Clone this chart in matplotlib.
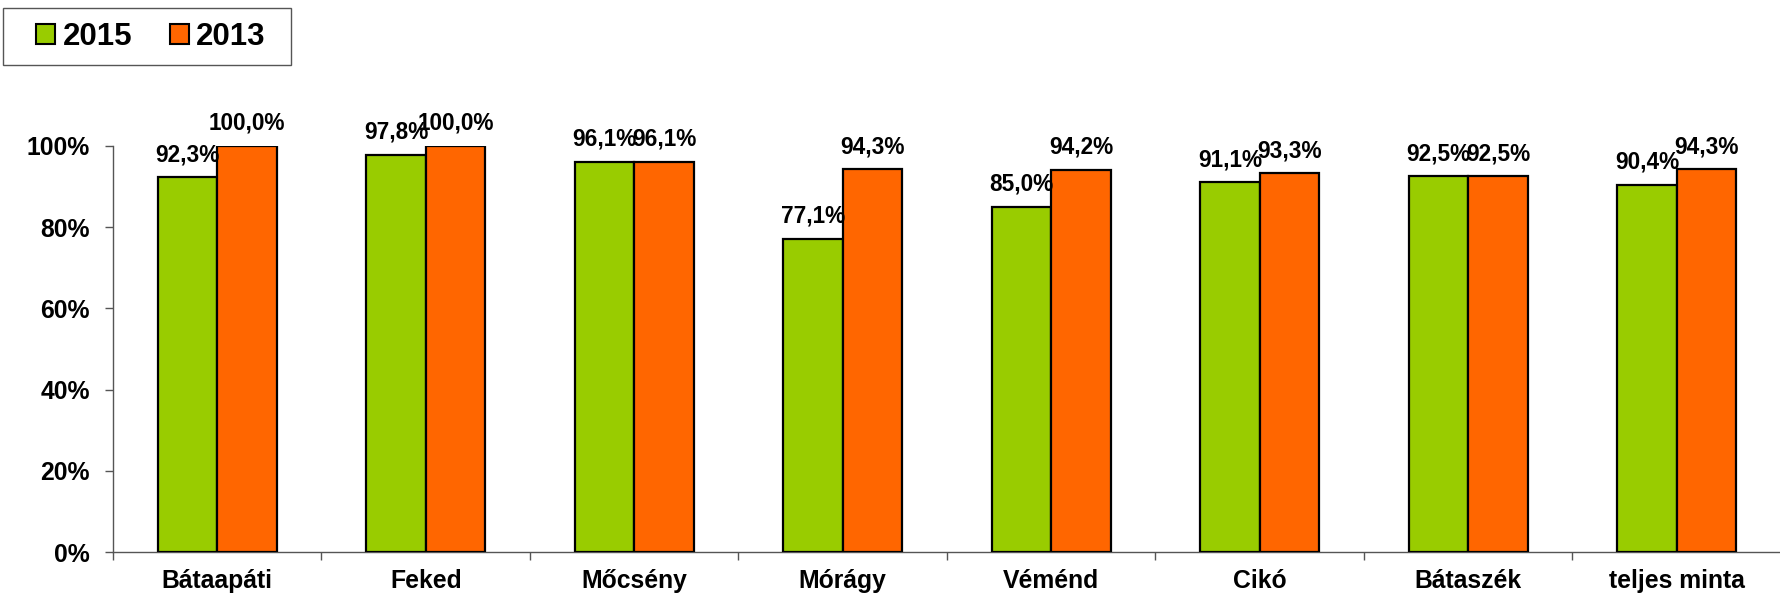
import matplotlib
matplotlib.use("Agg")
import matplotlib.pyplot as plt
import numpy as np
from matplotlib.patches import Patch, Rectangle

categories = ["Bátaapáti", "Feked", "Mőcsény", "Mórágy", "Véménd", "Cikó", "Bátaszék", "teljes minta"]
v2015 = [92.3, 97.8, 96.1, 77.1, 85.0, 91.1, 92.5, 90.4]
v2013 = [100.0, 100.0, 96.1, 94.3, 94.2, 93.3, 92.5, 94.3]
yticks = [0, 20, 40, 60, 80, 100]

plt.rcParams['font.family'] = ['Liberation Sans', 'DejaVu Sans']
plt.rcParams['font.weight'] = 'bold'

fig = plt.figure(figsize=(17.81, 5.96), dpi=100)
ax = fig.add_axes([113/1781, 1-552/596, 1-113/1781, (552-146)/596])

x = np.arange(len(categories))
w = 0.285
green = "#99CC00"
orange = "#FF6600"
b1 = ax.bar(x - w/2, v2015, w, color=green, edgecolor="black", linewidth=1.6, zorder=3)
b2 = ax.bar(x + w/2, v2013, w, color=orange, edgecolor="black", linewidth=1.6, zorder=3)

for bars, vals in ((b1, v2015), (b2, v2013)):
    for r, v in zip(bars, vals):
        ax.annotate(f"{v:.1f}%".replace(".", ","), (r.get_x() + r.get_width()/2, v),
                    xytext=(0, 8), textcoords="offset points", ha="center", va="bottom",
                    fontsize=16.3, fontweight="bold", annotation_clip=False, zorder=5)

ax.set_xlim(-0.5, len(categories) - 0.5)
ax.set_ylim(0, 100)
ax.set_yticks(yticks)
ax.set_yticklabels([f"{t}%" for t in yticks], fontsize=17.8, fontweight="bold")
ax.set_xticks(x)
ax.set_xticklabels(categories, fontsize=17.8, fontweight="bold")
ax.set_xticks(np.arange(len(categories) + 1) - 0.5, minor=True)
ax.tick_params(axis="x", which="major", length=0, pad=12)
ax.tick_params(axis="x", which="minor", length=5.5, width=1, color="#555555")
ax.tick_params(axis="y", length=5.5, width=1, color="#555555", pad=11)
for s in ("top", "right"):
    ax.spines[s].set_visible(False)
for s in ("left", "bottom"):
    ax.spines[s].set_color("#555555")
    ax.spines[s].set_linewidth(1)

# legend frame box
fig.patches.append(Rectangle((3/1781, 1-65/596), (291-3)/1781, (65-8)/596,
                             transform=fig.transFigure, facecolor="white",
                             edgecolor="#555555", linewidth=1, zorder=1))
handles = [Patch(facecolor=green, edgecolor="black", linewidth=1.5, label="2015"),
           Patch(facecolor=orange, edgecolor="black", linewidth=1.5, label="2013")]
leg = fig.legend(handles=handles, loc="center", bbox_to_anchor=(151/1781, 1-37/596),
                 ncol=2, frameon=False, prop={"size": 22.5, "weight": "bold"},
                 handlelength=0.6, handleheight=0.6, handletextpad=0.25, columnspacing=1.2,
                 borderaxespad=0, borderpad=0)

fig.savefig("out.png", dpi=100)
